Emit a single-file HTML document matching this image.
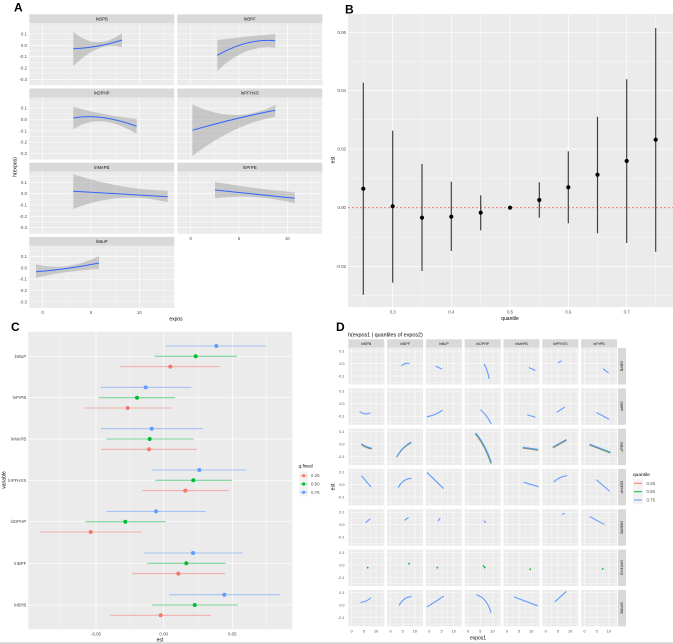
<!DOCTYPE html>
<html><head><meta charset="utf-8"><style>
html,body{margin:0;padding:0;background:#fff;}
svg{display:block;font-family:"Liberation Sans",sans-serif;}
.t{font-size:4.4px;fill:#4d4d4d;}
.s{font-size:4.4px;fill:#1a1a1a;text-anchor:middle;}
.ti{font-size:5.4px;fill:#000;}
.L{font-size:12px;font-weight:bold;fill:#000;}
</style></head><body>
<svg width="673" height="644" viewBox="0 0 673 644" xmlns="http://www.w3.org/2000/svg">
<defs>
<g id="pa">
<rect x="0" y="0" width="145" height="62" fill="#EBEBEB"/>
<g stroke="#fff" stroke-width="0.3">
<line x1="0" x2="145" y1="5" y2="5"/><line x1="0" x2="145" y1="16.3" y2="16.3"/><line x1="0" x2="145" y1="27.7" y2="27.7"/><line x1="0" x2="145" y1="39" y2="39"/><line x1="0" x2="145" y1="50.3" y2="50.3"/>
<line y1="0" y2="62" x1="37.6" x2="37.6"/><line y1="0" y2="62" x1="85.9" x2="85.9"/><line y1="0" y2="62" x1="134.1" x2="134.1"/>
</g>
<g stroke="#fff" stroke-width="0.6">
<line x1="0" x2="145" y1="10.65" y2="10.65"/><line x1="0" x2="145" y1="22" y2="22"/><line x1="0" x2="145" y1="33.3" y2="33.3"/><line x1="0" x2="145" y1="44.6" y2="44.6"/><line x1="0" x2="145" y1="56" y2="56"/>
<line y1="0" y2="62" x1="13.4" x2="13.4"/><line y1="0" y2="62" x1="61.7" x2="61.7"/><line y1="0" y2="62" x1="110" x2="110"/>
</g>
</g>
<g id="pd">
<rect x="0" y="0" width="36" height="36.5" fill="#EBEBEB"/>
<g stroke="#fff" stroke-width="0.25">
<line x1="0" x2="36" y1="9.25" y2="9.25"/><line x1="0" x2="36" y1="21.75" y2="21.75"/><line x1="0" x2="36" y1="34.25" y2="34.25"/>
<line y1="0" y2="36.5" x1="9.5" x2="9.5"/><line y1="0" y2="36.5" x1="21.7" x2="21.7"/><line y1="0" y2="36.5" x1="33.9" x2="33.9"/>
</g>
<g stroke="#fff" stroke-width="0.5">
<line x1="0" x2="36" y1="3" y2="3"/><line x1="0" x2="36" y1="15.5" y2="15.5"/><line x1="0" x2="36" y1="28" y2="28"/>
<line y1="0" y2="36.5" x1="3.4" x2="3.4"/><line y1="0" y2="36.5" x1="15.6" x2="15.6"/><line y1="0" y2="36.5" x1="27.8" x2="27.8"/>
</g>
</g>
</defs>

<!-- ================= PANEL A ================= -->
<text class="L" x="14" y="11.5">A</text>
<!-- strips -->
<g fill="#D9D9D9">
<rect x="29.3" y="14.3" width="145" height="9"/><rect x="177.3" y="14.3" width="145" height="9"/>
<rect x="29.3" y="88.5" width="145" height="9"/><rect x="177.3" y="88.5" width="145" height="9"/>
<rect x="29.3" y="162.7" width="145" height="9"/><rect x="177.3" y="162.7" width="145" height="9"/>
<rect x="29.3" y="236.9" width="145" height="9"/>
</g>
<text class="s" x="101.8" y="20.5">lnBPB</text><text class="s" x="249.8" y="20.5">lnBPF</text>
<text class="s" x="101.8" y="94.7">lnDPHP</text><text class="s" x="249.8" y="94.7">lnPFHXS</text>
<text class="s" x="101.8" y="168.9">lnMePB</text><text class="s" x="249.8" y="168.9">lnPrPB</text>
<text class="s" x="101.8" y="243.1">lnBuP</text>
<!-- panels -->
<use href="#pa" x="29.3" y="23.3"/><use href="#pa" x="177.3" y="23.3"/>
<use href="#pa" x="29.3" y="97.5"/><use href="#pa" x="177.3" y="97.5"/>
<use href="#pa" x="29.3" y="171.7"/><use href="#pa" x="177.3" y="171.7"/>
<use href="#pa" x="29.3" y="245.9"/>
<!-- ribbons -->
<g fill="#9a9a9a" fill-opacity="0.45">
<path d="M73.3,31.7 Q97,52 122,33 L122,47.3 Q100,40 73.3,66 Z"/>
<path d="M217.3,40 Q250,36 275.3,34 L275.3,47.7 Q245,44 217.3,71 Z"/>
<path d="M73.3,106.7 Q100,114.6 136.7,119 L136.7,134 Q100,111.2 73.3,129.3 Z"/>
<path d="M192.3,104.3 Q235,125.4 275.3,105 L275.3,116.7 Q235,123.7 192.3,156 Z"/>
<path d="M73.3,174.3 Q120,189.5 167.7,190.7 L167.7,202.3 Q120,190.4 73.3,209 Z"/>
<path d="M215,182 Q255,188.9 294.7,192.3 L294.7,203.3 Q255,193.2 215,198.3 Z"/>
<path d="M36,264.3 Q67,271.9 99,256 L99,269 Q67,270.7 36,277.7 Z"/>
</g>
<g fill="none" stroke="#3366FF" stroke-width="1">
<path d="M73.3,48.7 Q97,48 122,40"/>
<path d="M217.3,55.3 Q248,38 275.3,40.7"/>
<path d="M73.3,118 Q100,113 136.7,126.3"/>
<path d="M192.3,130.3 Q235,118 275.3,110.3"/>
<path d="M73.3,191.3 L167.7,196.7"/>
<path d="M215,190 L294.7,198.3"/>
<path d="M36,271.7 Q67,269.5 99,263"/>
</g>
<!-- A y ticks -->
<g class="t" text-anchor="end">
<text x="27" y="35.5">0.1</text><text x="27" y="46.8">0.0</text><text x="27" y="58.1">-0.1</text><text x="27" y="69.4">-0.2</text><text x="27" y="80.8">-0.3</text>
<text x="27" y="109.7">0.1</text><text x="27" y="121">0.0</text><text x="27" y="132.3">-0.1</text><text x="27" y="143.6">-0.2</text><text x="27" y="155">-0.3</text>
<text x="27" y="183.9">0.1</text><text x="27" y="195.2">0.0</text><text x="27" y="206.5">-0.1</text><text x="27" y="217.8">-0.2</text><text x="27" y="229.2">-0.3</text>
<text x="27" y="258.1">0.1</text><text x="27" y="269.4">0.0</text><text x="27" y="280.7">-0.1</text><text x="27" y="292">-0.2</text><text x="27" y="303.4">-0.3</text>
</g>
<g class="t" text-anchor="middle">
<text x="42.7" y="313.8">0</text><text x="91" y="313.8">5</text><text x="139.3" y="313.8">10</text>
<text x="190.7" y="239.8">0</text><text x="239" y="239.8">5</text><text x="287.3" y="239.8">10</text>
</g>
<text class="ti" x="176" y="320.5" text-anchor="middle" style="font-size:5px">expos</text>
<text class="ti" x="0" y="0" text-anchor="middle" style="font-size:5px" transform="translate(16.5,167) rotate(-90)">h(expos)</text>

<!-- ================= PANEL B ================= -->
<text class="L" x="345" y="13.5">B</text>
<rect x="348" y="14" width="325" height="293" fill="#EBEBEB"/>
<g stroke="#fff" stroke-width="0.35">
<line x1="348" x2="673" y1="61.3" y2="61.3"/><line x1="348" x2="673" y1="119.7" y2="119.7"/><line x1="348" x2="673" y1="178.3" y2="178.3"/><line x1="348" x2="673" y1="237" y2="237"/><line x1="348" x2="673" y1="295.7" y2="295.7"/>
<line y1="14" y2="307" x1="363.3" x2="363.3"/><line y1="14" y2="307" x1="422" x2="422"/><line y1="14" y2="307" x1="480.7" x2="480.7"/><line y1="14" y2="307" x1="539.3" x2="539.3"/><line y1="14" y2="307" x1="597.5" x2="597.5"/><line y1="14" y2="307" x1="655.7" x2="655.7"/>
</g>
<g stroke="#fff" stroke-width="0.7">
<line x1="348" x2="673" y1="32.3" y2="32.3"/><line x1="348" x2="673" y1="90.3" y2="90.3"/><line x1="348" x2="673" y1="149" y2="149"/><line x1="348" x2="673" y1="207.7" y2="207.7"/><line x1="348" x2="673" y1="266.3" y2="266.3"/>
<line y1="14" y2="307" x1="392.7" x2="392.7"/><line y1="14" y2="307" x1="451.3" x2="451.3"/><line y1="14" y2="307" x1="510" x2="510"/><line y1="14" y2="307" x1="568.3" x2="568.3"/><line y1="14" y2="307" x1="626.7" x2="626.7"/>
</g>
<line x1="348" x2="673" y1="207.7" y2="207.7" stroke="#E0706A" stroke-width="0.9" stroke-dasharray="2.2,1.8"/>
<g stroke="#3d3d3d" stroke-width="1.15">
<line x1="363.3" x2="363.3" y1="82.7" y2="294.7"/>
<line x1="392.7" x2="392.7" y1="130.7" y2="282.7"/>
<line x1="422" x2="422" y1="164" y2="271"/>
<line x1="451.3" x2="451.3" y1="181.7" y2="251"/>
<line x1="480.7" x2="480.7" y1="195.3" y2="230.3"/>
<line x1="539.3" x2="539.3" y1="182.3" y2="217.7"/>
<line x1="568.3" x2="568.3" y1="151.3" y2="223.3"/>
<line x1="597.5" x2="597.5" y1="116.7" y2="233.3"/>
<line x1="626.7" x2="626.7" y1="79.3" y2="243"/>
<line x1="655.7" x2="655.7" y1="28" y2="251.7"/>
</g>
<g fill="#000">
<circle cx="363.3" cy="188.7" r="2.1"/><circle cx="392.7" cy="206.3" r="2.1"/><circle cx="422" cy="217.7" r="2.1"/><circle cx="451.3" cy="216.7" r="2.1"/><circle cx="480.7" cy="212.7" r="2.1"/><circle cx="510" cy="207.7" r="2.1"/><circle cx="539.3" cy="200" r="2.1"/><circle cx="568.3" cy="187.3" r="2.1"/><circle cx="597.5" cy="174.7" r="2.1"/><circle cx="626.7" cy="161" r="2.1"/><circle cx="655.7" cy="139.7" r="2.1"/>
</g>
<g class="t" text-anchor="end">
<text x="346" y="33.8">0.06</text><text x="346" y="91.8">0.04</text><text x="346" y="150.5">0.02</text><text x="346" y="209.2">0.00</text><text x="346" y="267.8">-0.02</text>
</g>
<g class="t" text-anchor="middle">
<text x="392.7" y="313.5">0.3</text><text x="451.3" y="313.5">0.4</text><text x="510" y="313.5">0.5</text><text x="568.3" y="313.5">0.6</text><text x="626.7" y="313.5">0.7</text>
</g>
<text class="ti" x="510" y="320" text-anchor="middle" style="font-size:5px">quantile</text>
<text class="ti" x="0" y="0" text-anchor="middle" style="font-size:5px" transform="translate(334.5,160) rotate(-90)">est</text>

<!-- ================= PANEL C ================= -->
<text class="L" x="11" y="331">C</text>
<rect x="28.3" y="331.7" width="264" height="297.6" fill="#EBEBEB"/>
<g stroke="#fff" stroke-width="0.35">
<line y1="331.7" y2="629.3" x1="61" x2="61"/><line y1="331.7" y2="629.3" x1="130" x2="130"/><line y1="331.7" y2="629.3" x1="198" x2="198"/><line y1="331.7" y2="629.3" x1="266.7" x2="266.7"/>
</g>
<g stroke="#fff" stroke-width="0.7">
<line y1="331.7" y2="629.3" x1="96" x2="96"/><line y1="331.7" y2="629.3" x1="163.7" x2="163.7"/><line y1="331.7" y2="629.3" x1="232.3" x2="232.3"/>
<line x1="28.3" x2="292.3" y1="356.3" y2="356.3"/><line x1="28.3" x2="292.3" y1="397.7" y2="397.7"/><line x1="28.3" x2="292.3" y1="439" y2="439"/><line x1="28.3" x2="292.3" y1="480.3" y2="480.3"/><line x1="28.3" x2="292.3" y1="521.7" y2="521.7"/><line x1="28.3" x2="292.3" y1="563.3" y2="563.3"/><line x1="28.3" x2="292.3" y1="605" y2="605"/>
</g>
<g stroke-width="1.1" stroke-opacity="0.5">
<!-- lnBuP -->
<line x1="166" x2="266.3" y1="346" y2="346" stroke="#619CFF"/>
<line x1="154.3" x2="237" y1="356.3" y2="356.3" stroke="#00BA38"/>
<line x1="120.3" x2="219.7" y1="366.6" y2="366.6" stroke="#F8766D"/>
<!-- lnPrPB -->
<line x1="100.7" x2="191.3" y1="387.4" y2="387.4" stroke="#619CFF"/>
<line x1="98.7" x2="175.3" y1="397.7" y2="397.7" stroke="#00BA38"/>
<line x1="84.3" x2="171.3" y1="408" y2="408" stroke="#F8766D"/>
<!-- lnMePB -->
<line x1="101" x2="203" y1="428.7" y2="428.7" stroke="#619CFF"/>
<line x1="106.3" x2="193.7" y1="439" y2="439" stroke="#00BA38"/>
<line x1="101.3" x2="196.7" y1="449.3" y2="449.3" stroke="#F8766D"/>
<!-- lnPFHXS -->
<line x1="152.3" x2="246.7" y1="470" y2="470" stroke="#619CFF"/>
<line x1="155.3" x2="231.7" y1="480.3" y2="480.3" stroke="#00BA38"/>
<line x1="142.3" x2="228.7" y1="490.6" y2="490.6" stroke="#F8766D"/>
<!-- lnDPHP -->
<line x1="106.7" x2="205.7" y1="511.4" y2="511.4" stroke="#619CFF"/>
<line x1="85.7" x2="165.7" y1="521.7" y2="521.7" stroke="#00BA38"/>
<line x1="40" x2="142" y1="532" y2="532" stroke="#F8766D"/>
<!-- lnBPF -->
<line x1="143.7" x2="242.7" y1="553" y2="553" stroke="#619CFF"/>
<line x1="147.3" x2="225.7" y1="563.3" y2="563.3" stroke="#00BA38"/>
<line x1="132.3" x2="225" y1="573.6" y2="573.6" stroke="#F8766D"/>
<!-- lnBPB -->
<line x1="169" x2="280" y1="594.7" y2="594.7" stroke="#619CFF"/>
<line x1="151.7" x2="238" y1="605" y2="605" stroke="#00BA38"/>
<line x1="110" x2="211" y1="615.3" y2="615.3" stroke="#F8766D"/>
</g>
<g>
<circle cx="216.3" cy="346" r="2" fill="#619CFF"/><circle cx="195.7" cy="356.3" r="2" fill="#00BA38"/><circle cx="170.3" cy="366.6" r="2" fill="#F8766D"/>
<circle cx="145.7" cy="387.4" r="2" fill="#619CFF"/><circle cx="137" cy="397.7" r="2" fill="#00BA38"/><circle cx="127.7" cy="408" r="2" fill="#F8766D"/>
<circle cx="151.7" cy="428.7" r="2" fill="#619CFF"/><circle cx="149.7" cy="439" r="2" fill="#00BA38"/><circle cx="149" cy="449.3" r="2" fill="#F8766D"/>
<circle cx="199.3" cy="470" r="2" fill="#619CFF"/><circle cx="193.3" cy="480.3" r="2" fill="#00BA38"/><circle cx="185.3" cy="490.6" r="2" fill="#F8766D"/>
<circle cx="156" cy="511.4" r="2" fill="#619CFF"/><circle cx="125.3" cy="521.7" r="2" fill="#00BA38"/><circle cx="90.7" cy="532" r="2" fill="#F8766D"/>
<circle cx="193" cy="553" r="2" fill="#619CFF"/><circle cx="186.3" cy="563.3" r="2" fill="#00BA38"/><circle cx="178.3" cy="573.6" r="2" fill="#F8766D"/>
<circle cx="224.3" cy="594.7" r="2" fill="#619CFF"/><circle cx="194.7" cy="605" r="2" fill="#00BA38"/><circle cx="160.7" cy="615.3" r="2" fill="#F8766D"/>
</g>
<g class="t" text-anchor="end">
<text x="26.3" y="357.8">lnBuP</text><text x="26.3" y="399.2">lnPrPB</text><text x="26.3" y="440.5">lnMePB</text><text x="26.3" y="481.8">lnPFHXS</text><text x="26.3" y="523.2">lnDPHP</text><text x="26.3" y="564.8">lnBPF</text><text x="26.3" y="606.5">lnBPB</text>
</g>
<g class="t" text-anchor="middle">
<text x="96" y="635.5">-0.05</text><text x="163.7" y="635.5">0.00</text><text x="232.3" y="635.5">0.05</text>
</g>
<text class="ti" x="160" y="641.5" text-anchor="middle" style="font-size:5px">est</text>
<text class="ti" x="0" y="0" text-anchor="middle" style="font-size:5px" transform="translate(5.5,480) rotate(-90)">variable</text>
<!-- legend C -->
<text class="ti" x="298.5" y="467.5" style="font-size:4.8px">q.fixed</text>
<rect x="299.5" y="471.5" width="8.5" height="25" fill="#F2F2F2"/>
<g stroke-width="1" stroke-opacity="0.5">
<line x1="300" x2="307.5" y1="475.7" y2="475.7" stroke="#F8766D"/>
<line x1="300" x2="307.5" y1="484" y2="484" stroke="#00BA38"/>
<line x1="300" x2="307.5" y1="492.3" y2="492.3" stroke="#619CFF"/>
</g>
<circle cx="303.7" cy="475.7" r="1.6" fill="#F8766D"/><circle cx="303.7" cy="484" r="1.6" fill="#00BA38"/><circle cx="303.7" cy="492.3" r="1.6" fill="#619CFF"/>
<g class="t"><text x="311" y="477.2">0.25</text><text x="311" y="485.5">0.50</text><text x="311" y="493.8">0.75</text></g>

<!-- ================= PANEL D ================= -->
<text class="L" x="336" y="331">D</text>
<text class="ti" x="348" y="336.3" style="font-size:5.4px">h(expos1 | quantiles of expos2)</text>
<!-- column strips -->
<g fill="#D9D9D9">
<rect x="348.3" y="339.3" width="36" height="8.4"/><rect x="387.1" y="339.3" width="36" height="8.4"/><rect x="425.9" y="339.3" width="36" height="8.4"/><rect x="464.7" y="339.3" width="36" height="8.4"/><rect x="503.5" y="339.3" width="36" height="8.4"/><rect x="542.3" y="339.3" width="36" height="8.4"/><rect x="581.1" y="339.3" width="36" height="8.4"/>
<rect x="618" y="348" width="8" height="36.5"/><rect x="618" y="388.3" width="8" height="36.5"/><rect x="618" y="428.6" width="8" height="36.5"/><rect x="618" y="468.9" width="8" height="36.5"/><rect x="618" y="509.2" width="8" height="36.5"/><rect x="618" y="549.5" width="8" height="36.5"/><rect x="618" y="589.8" width="8" height="36.5"/>
</g>
<g class="s" style="font-size:3.6px">
<text x="366.3" y="345">lnBPB</text><text x="405.1" y="345">lnBPF</text><text x="443.9" y="345">lnBuP</text><text x="482.7" y="345">lnDPHP</text><text x="521.5" y="345">lnMePB</text><text x="560.3" y="345">lnPFHXS</text><text x="599.1" y="345">lnPrPB</text>
<text transform="translate(620.7,366.25) rotate(90)" x="0" y="0">lnBPB</text>
<text transform="translate(620.7,406.55) rotate(90)" x="0" y="0">lnBPF</text>
<text transform="translate(620.7,446.85) rotate(90)" x="0" y="0">lnBuP</text>
<text transform="translate(620.7,487.15) rotate(90)" x="0" y="0">lnDPHP</text>
<text transform="translate(620.7,527.45) rotate(90)" x="0" y="0">lnMePB</text>
<text transform="translate(620.7,567.75) rotate(90)" x="0" y="0">lnPFHXS</text>
<text transform="translate(620.7,608.05) rotate(90)" x="0" y="0">lnPrPB</text>
</g>
<!-- cells -->
<g>
<use href="#pd" x="348.3" y="348"/><use href="#pd" x="387.1" y="348"/><use href="#pd" x="425.9" y="348"/><use href="#pd" x="464.7" y="348"/><use href="#pd" x="503.5" y="348"/><use href="#pd" x="542.3" y="348"/><use href="#pd" x="581.1" y="348"/>
<use href="#pd" x="348.3" y="388.3"/><use href="#pd" x="387.1" y="388.3"/><use href="#pd" x="425.9" y="388.3"/><use href="#pd" x="464.7" y="388.3"/><use href="#pd" x="503.5" y="388.3"/><use href="#pd" x="542.3" y="388.3"/><use href="#pd" x="581.1" y="388.3"/>
<use href="#pd" x="348.3" y="428.6"/><use href="#pd" x="387.1" y="428.6"/><use href="#pd" x="425.9" y="428.6"/><use href="#pd" x="464.7" y="428.6"/><use href="#pd" x="503.5" y="428.6"/><use href="#pd" x="542.3" y="428.6"/><use href="#pd" x="581.1" y="428.6"/>
<use href="#pd" x="348.3" y="468.9"/><use href="#pd" x="387.1" y="468.9"/><use href="#pd" x="425.9" y="468.9"/><use href="#pd" x="464.7" y="468.9"/><use href="#pd" x="503.5" y="468.9"/><use href="#pd" x="542.3" y="468.9"/><use href="#pd" x="581.1" y="468.9"/>
<use href="#pd" x="348.3" y="509.2"/><use href="#pd" x="387.1" y="509.2"/><use href="#pd" x="425.9" y="509.2"/><use href="#pd" x="464.7" y="509.2"/><use href="#pd" x="503.5" y="509.2"/><use href="#pd" x="542.3" y="509.2"/><use href="#pd" x="581.1" y="509.2"/>
<use href="#pd" x="348.3" y="549.5"/><use href="#pd" x="387.1" y="549.5"/><use href="#pd" x="425.9" y="549.5"/><use href="#pd" x="464.7" y="549.5"/><use href="#pd" x="503.5" y="549.5"/><use href="#pd" x="542.3" y="549.5"/><use href="#pd" x="581.1" y="549.5"/>
<use href="#pd" x="348.3" y="589.8"/><use href="#pd" x="387.1" y="589.8"/><use href="#pd" x="425.9" y="589.8"/><use href="#pd" x="464.7" y="589.8"/><use href="#pd" x="503.5" y="589.8"/><use href="#pd" x="542.3" y="589.8"/><use href="#pd" x="581.1" y="589.8"/>
</g>
<!-- D curves -->
<g fill="none" stroke="#619CFF" stroke-width="1.1" stroke-linecap="round">
<path d="M401.7,365.7 Q405,362.5 409,363.5"/>
<path d="M436,366.3 L441.7,369"/>
<path d="M484.3,364.3 Q487.5,370 489,378.3"/>
<path d="M529.3,367.7 L535,370.3"/>
<path d="M558.3,362.7 L561,361"/>
<path d="M603.3,369 L608.3,372.7"/>
<path d="M360,411.7 Q365,415.5 370,413"/>
<path d="M427.3,416.7 Q436,415 442.3,410.3"/>
<path d="M480.7,410 Q487,415 491,423.7"/>
<path d="M527.7,415 L535,417"/>
<path d="M557.3,412 L564.3,407.3"/>
<path d="M596.7,412.7 L608.7,419"/>
<path d="M361.7,476 L370.7,486.7"/>
<path d="M398.3,487.3 Q403,479 411,478.3"/>
<path d="M427.3,472.7 L443.3,488.3"/>
<path d="M524,482.3 L538.3,486.7"/>
<path d="M554,481.7 Q560,476.5 566.7,475.7"/>
<path d="M596.7,480 L609.3,491"/>
<path d="M366,522.3 L370,519"/>
<path d="M405,520 L408.3,517.7"/>
<path d="M438.3,520.7 L440,518.3"/>
<path d="M484,521 L485.7,522.3"/>
<path d="M562.7,514.3 L564.3,513.3"/>
<path d="M590,516.7 L604,524.3"/>
<path d="M361,602.3 Q366,602 370.7,598"/>
<path d="M399.3,605 Q404,597 411,596.7"/>
<path d="M427.3,606.7 Q436,601.5 443.3,596.3"/>
<path d="M476.7,595 Q486,597 491,612.3"/>
<path d="M514.3,597 L537.3,605.7"/>
<path d="M555,601.7 L566,591.7"/>
</g>
<!-- row lnBuP multi-colour -->
<g fill="none" stroke-width="1.1" stroke-linecap="round">
<g stroke="#F8766D" transform="translate(0,0.9)">
<path d="M361.7,444 Q366,447 371.3,448"/><path d="M396.8,456 Q402.5,446 410.5,442.3"/><path d="M475.5,433.3 Q484.5,444 490.8,462.3"/><path d="M523.3,447.3 L537.7,449.3"/><path d="M553.3,446.7 L566,439.7"/><path d="M590,444.3 L610,452"/>
</g>
<g stroke="#00BA38" transform="translate(0,0.45)">
<path d="M361.7,444 Q366,447 371.3,448"/><path d="M397,456 Q402.8,446 410.8,442.3"/><path d="M475.8,433.3 Q484.8,444 491,462.3"/><path d="M523.3,447.3 L537.7,449.3"/><path d="M553.3,446.7 L566,439.7"/><path d="M590,444.3 L610,452"/>
</g>
<g stroke="#619CFF">
<path d="M361.7,444 Q366,447 371.3,448"/><path d="M397.3,456 Q403,446 411,442.3"/><path d="M476,433.3 Q485,444 491.3,462.3"/><path d="M523.3,447.3 L537.7,449.3"/><path d="M553.3,446.7 L566,439.7"/><path d="M590,444.3 L610,452"/>
</g>
</g>
<!-- row lnPFHXS green dots -->
<g fill="#00BA38">
<circle cx="367.7" cy="567.7" r="0.9"/><circle cx="409" cy="563.7" r="0.9"/><circle cx="437.3" cy="567.7" r="0.9"/><circle cx="483.6" cy="566" r="0.9"/><circle cx="484.8" cy="567.5" r="0.9"/><circle cx="530.3" cy="569.3" r="0.9"/><circle cx="602.7" cy="569" r="0.9"/>
</g>
<!-- D y ticks -->
<g class="t" text-anchor="end" style="font-size:3.8px">
<text x="344.5" y="352.4">0.1</text><text x="344.5" y="364.9">0.0</text><text x="344.5" y="377.4">-0.1</text>
<text x="344.5" y="392.7">0.1</text><text x="344.5" y="405.2">0.0</text><text x="344.5" y="417.7">-0.1</text>
<text x="344.5" y="433">0.1</text><text x="344.5" y="445.5">0.0</text><text x="344.5" y="458">-0.1</text>
<text x="344.5" y="473.3">0.1</text><text x="344.5" y="485.8">0.0</text><text x="344.5" y="498.3">-0.1</text>
<text x="344.5" y="513.6">0.1</text><text x="344.5" y="526.1">0.0</text><text x="344.5" y="538.6">-0.1</text>
<text x="344.5" y="553.9">0.1</text><text x="344.5" y="566.4">0.0</text><text x="344.5" y="578.9">-0.1</text>
<text x="344.5" y="594.2">0.1</text><text x="344.5" y="606.7">0.0</text><text x="344.5" y="619.2">-0.1</text>
</g>
<g class="t" text-anchor="middle" style="font-size:3.8px">
<text x="351.7" y="632.5">0</text><text x="363.9" y="632.5">5</text><text x="376.1" y="632.5">10</text>
<text x="390.5" y="632.5">0</text><text x="402.7" y="632.5">5</text><text x="414.9" y="632.5">10</text>
<text x="429.3" y="632.5">0</text><text x="441.5" y="632.5">5</text><text x="453.7" y="632.5">10</text>
<text x="468.1" y="632.5">0</text><text x="480.3" y="632.5">5</text><text x="492.5" y="632.5">10</text>
<text x="506.9" y="632.5">0</text><text x="519.1" y="632.5">5</text><text x="531.3" y="632.5">10</text>
<text x="545.7" y="632.5">0</text><text x="557.9" y="632.5">5</text><text x="570.1" y="632.5">10</text>
<text x="584.5" y="632.5">0</text><text x="596.7" y="632.5">5</text><text x="608.9" y="632.5">10</text>
</g>
<text class="ti" x="478" y="639.5" text-anchor="middle" style="font-size:5px">expos1</text>
<text class="ti" x="0" y="0" text-anchor="middle" style="font-size:5px" transform="translate(334.5,487) rotate(-90)">est</text>
<!-- legend D -->
<text class="ti" x="633" y="476" style="font-size:4.8px">quantile</text>
<rect x="633" y="479.3" width="10" height="25" fill="#F2F2F2"/>
<line x1="634" x2="642" y1="483.3" y2="483.3" stroke="#F8766D" stroke-width="1"/>
<line x1="634" x2="642" y1="491.7" y2="491.7" stroke="#00BA38" stroke-width="1"/>
<line x1="634" x2="642" y1="500" y2="500" stroke="#619CFF" stroke-width="1"/>
<g class="t"><text x="646.5" y="484.8">0.25</text><text x="646.5" y="493.2">0.50</text><text x="646.5" y="501.5">0.75</text></g>

<!-- bottom border -->
<rect x="0" y="642.3" width="673" height="1.7" fill="#d4d4d4"/>
</svg>
</body></html>
